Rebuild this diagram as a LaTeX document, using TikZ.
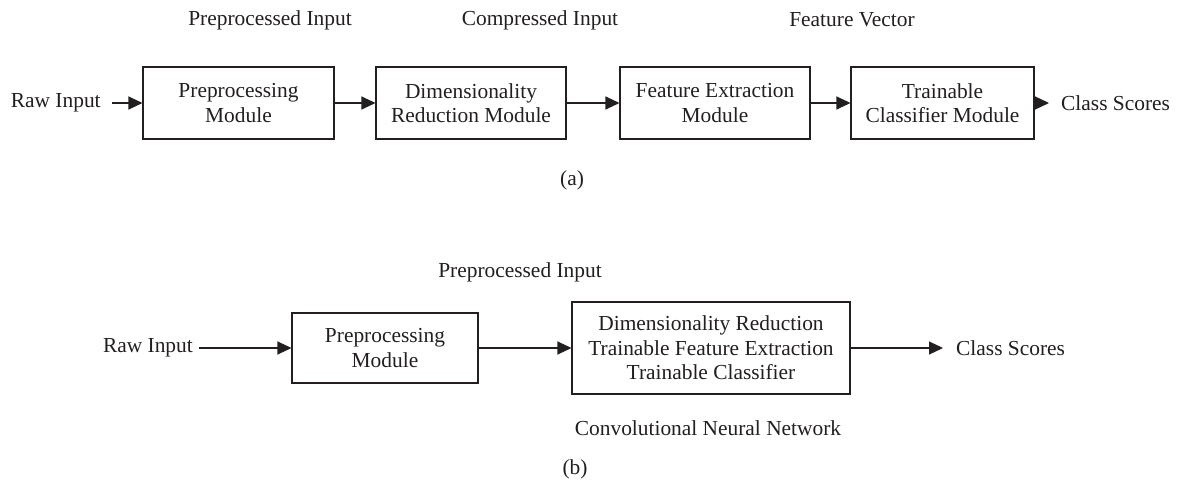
\documentclass[tikz,border=0pt]{standalone}
\usepackage{fontspec}
\setmainfont{Liberation Serif}
\usetikzlibrary{arrows.meta}
\definecolor{ink}{HTML}{231F20}
\begin{document}
\begin{tikzpicture}[x=1pt,y=-1pt,
  every node/.style={font=\fontsize{21.4pt}{24.5pt}\selectfont, text=ink},
  lbl/.style={inner sep=0pt},
  modbox/.style={draw=ink, line width=1.1pt, rectangle, align=center, inner sep=0pt},
  conn/.style={draw=ink, line width=1.1pt, -{Triangle[length=14pt,width=13pt]}}
]
\useasboundingbox (0,0) rectangle (1182,481);
\fill[white] (0,0) rectangle (1182,481);

% ---------- (a) ----------
\node[lbl, anchor=west] (rawA) at (10.7,103) {Raw Input};
\node[modbox, minimum width=191pt, minimum height=72pt] (a1) at (238.5,103) {Preprocessing\\Module};
\node[modbox, minimum width=190pt, minimum height=72pt] (a2) at (471,103) {Dimensionality\\Reduction Module};
\node[modbox, minimum width=190pt, minimum height=72pt] (a3) at (715,103) {Feature Extraction\\Module};
\node[modbox, minimum width=183pt, minimum height=72pt] (a4) at (942.5,103) {Trainable\\Classifier Module};
\node[lbl, anchor=west] (clsA) at (1061,103) {Class Scores};

\node[lbl] (tA1) at (270,20) {Preprocessed Input};
\node[lbl] (tA2) at (540,20) {Compressed Input};
\node[lbl] (tA3) at (852,20) {Feature Vector};
\node[lbl] (capA) at (572,180) {(a)};

\draw[conn] ([xshift=11pt]rawA.east) -- (a1.west);
\draw[conn] (a1.east) -- (a2.west);
\draw[conn] (a2.east) -- (a3.west);
\draw[conn] (a3.east) -- (a4.west);
\draw[conn] (a4.east) -- ([xshift=-12pt]clsA.west);

% ---------- (b) ----------
\node[lbl, anchor=east] (rawB) at (193,348) {Raw Input};
\node[modbox, minimum width=186pt, minimum height=70pt] (b1) at (385,348) {Preprocessing\\Module};
\node[modbox, minimum width=278pt, minimum height=92pt] (b2) at (711,348) {Dimensionality Reduction\\Trainable Feature Extraction\\Trainable Classifier};
\node[lbl, anchor=west] (clsB) at (956,348) {Class Scores};

\node[lbl] (tB1) at (520,272) {Preprocessed Input};
\node[lbl] (cnn) at (708,428) {Convolutional Neural Network};
\node[lbl] (capB) at (575,469) {(b)};

\draw[conn] ([xshift=6pt]rawB.east) -- (b1.west);
\draw[conn] (b1.east) -- (b2.west);
\draw[conn] (b2.east) -- ([xshift=-13pt]clsB.west);
\end{tikzpicture}
\end{document}
